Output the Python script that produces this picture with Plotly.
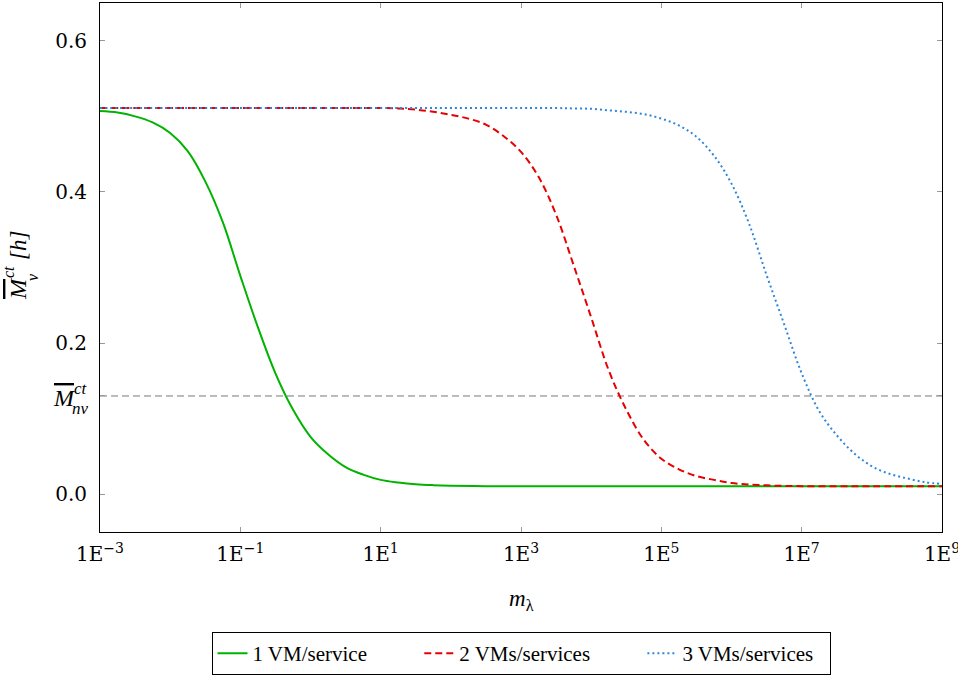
import plotly.graph_objects as go

# ---- data (x = m_lambda, y = mean completion time [h]) ----
m_green = [1e-3, 10**-2.75, 10**-2.5, 10**-2.25, 1e-2, 10**-1.75, 10**-1.5, 10**-1.25, 1e-1,
           10**-0.75, 10**-0.5, 10**-0.25, 1e0, 10**0.25, 10**0.5, 10**0.75, 1e1, 10**1.25,
           10**1.5, 10**1.75, 1e2, 10**2.5, 1e3, 1e4, 1e5, 1e6, 1e7, 1e8, 1e9]
v_green = [0.507, 0.505, 0.500, 0.492, 0.478, 0.454, 0.414, 0.360, 0.289,
           0.221, 0.160, 0.112, 0.076, 0.053, 0.036, 0.026, 0.019, 0.0155,
           0.0132, 0.012, 0.0113, 0.0107, 0.0105, 0.0105, 0.0105, 0.0105, 0.0105, 0.0105, 0.0105]

m_red = [1e-3, 1e-2, 1e-1, 1e0, 10**0.5, 1e1, 10**1.25, 10**1.5, 10**1.75, 1e2, 10**2.25,
         10**2.5, 10**2.75, 1e3, 10**3.25, 10**3.5, 10**3.75, 1e4, 10**4.25, 10**4.5,
         10**4.75, 1e5, 10**5.25, 10**5.5, 10**5.75, 1e6, 10**6.25, 10**6.5, 10**6.75,
         1e7, 10**7.5, 1e8, 1e9]
v_red = [0.511, 0.511, 0.511, 0.511, 0.511, 0.511, 0.5105, 0.509, 0.506, 0.502, 0.497,
         0.489, 0.474, 0.453, 0.420, 0.370, 0.303, 0.234, 0.164, 0.112,
         0.072, 0.047, 0.033, 0.024, 0.019, 0.0148, 0.0128, 0.0117, 0.011,
         0.0107, 0.0105, 0.0105, 0.0105]

m_blue = [1e-3, 1e-1, 1e1, 1e2, 1e3, 10**3.5, 10**3.75, 1e4, 10**4.25, 10**4.5, 10**4.75,
          1e5, 10**5.25, 10**5.5, 10**5.75, 1e6, 10**6.25, 10**6.5, 10**6.75, 1e7,
          10**7.25, 10**7.5, 10**7.75, 1e8, 10**8.25, 10**8.5, 10**8.75, 1e9]
v_blue = [0.511, 0.511, 0.511, 0.511, 0.511, 0.511, 0.5105, 0.510, 0.508, 0.506, 0.503,
          0.497, 0.488, 0.473, 0.448, 0.411, 0.358, 0.290, 0.225, 0.160,
          0.110, 0.078, 0.054, 0.037, 0.027, 0.021, 0.016, 0.0135]

m_nv = 0.13

series_names = ["1 VM/service", "2 VMs/services", "3 VMs/services"]
x_tickvals = [1e-3, 1e-1, 1e1, 1e3, 1e5, 1e7, 1e9]
x_ticktext = ["1E<sup>\u22123</sup>", "1E<sup>\u22121</sup>", "1E<sup>1</sup>", "1E<sup>3</sup>",
              "1E<sup>5</sup>", "1E<sup>7</sup>", "1E<sup>9</sup>"]
y_tickvals = [0.0, 0.2, 0.4, 0.6, m_nv]
y_ticktext = ["0.0", "0.2", "0.4", "0.6", ""]

# ---- figure ----
W, H = 958, 678
L, R, T, B = 100, 16, 3, 146
PW, PH = W - L - R, H - T - B

def px_x(px):
    return (px - L) / PW

def px_y(py):
    return (H - B - py) / PH

NB = "\u00a0"
legend_labels = [series_names[0] + NB * 9, series_names[1] + NB * 9, series_names[2] + NB * 2]

fig = go.Figure()
fig.add_trace(go.Scatter(x=m_green, y=v_green, mode="lines", name=legend_labels[0],
                         line=dict(color="#00b300", width=2, shape="spline")))
fig.add_trace(go.Scatter(x=m_red, y=v_red, mode="lines", name=legend_labels[1],
                         line=dict(color="#e60000", width=2, dash="7px,4px", shape="spline")))
fig.add_trace(go.Scatter(x=m_blue, y=v_blue, mode="lines", name=legend_labels[2],
                         line=dict(color="#2f86dc", width=2, dash="2px,3px", shape="spline")))

fig.add_shape(type="line", xref="paper", x0=0, x1=1, yref="y", y0=m_nv, y1=m_nv,
              line=dict(color="#777777", width=1, dash="7px,4px"), layer="below")

serif = "Liberation Serif"
tickfont = dict(family="DejaVu Serif", size=20, color="black")

fig.update_layout(
    width=W, height=H,
    margin=dict(l=L, r=R, t=T, b=B, autoexpand=False),
    paper_bgcolor="white", plot_bgcolor="white",
    showlegend=True,
    legend=dict(orientation="h", x=0.5, xanchor="center", y=px_y(675), yanchor="bottom",
                bordercolor="black", borderwidth=1, font=dict(family=serif, size=21, color="black"),
                tracegroupgap=0, itemwidth=30),
    xaxis=dict(type="log", range=[-3, 9], tickvals=x_tickvals, ticktext=x_ticktext,
               ticks="inside", ticklen=5, tickcolor="#999999", tickwidth=1,
               showline=True, linecolor="black", linewidth=1, mirror="allticks",
               showgrid=False, zeroline=False, tickfont=tickfont, ticklabelstandoff=4,
               ticklabeloverflow="allow"),
    yaxis=dict(range=[-0.05, 0.65], tickvals=y_tickvals, ticktext=y_ticktext,
               ticks="inside", ticklen=5, tickcolor="#999999", tickwidth=1,
               showline=True, linecolor="black", linewidth=1, mirror="allticks",
               showgrid=False, zeroline=False, tickfont=tickfont, ticklabelstandoff=8),
)

OL = "<span style='text-decoration:overline'><i>M</i></span>"
ann = []
# x-axis title
ann.append(dict(text="<i>m</i><sub>\u03bb</sub>", xref="paper", yref="paper", x=0.5, y=px_y(600),
                xanchor="center", yanchor="middle", showarrow=False,
                font=dict(family=serif, size=23, color="black")))
# y-axis title (rotated, pieces stacked like LaTeX)
ann.append(dict(text=OL, xref="paper", yref="paper", x=px_x(18), y=px_y(289),
                textangle=-90, xanchor="center", yanchor="middle", showarrow=False,
                font=dict(family=serif, size=24, color="black")))
ann.append(dict(text="<i>ct</i>", xref="paper", yref="paper", x=px_x(8), y=px_y(272),
                textangle=-90, xanchor="center", yanchor="middle", showarrow=False,
                font=dict(family=serif, size=16, color="black")))
ann.append(dict(text="<i>\u03bd</i>", xref="paper", yref="paper", x=px_x(32), y=px_y(277),
                textangle=-90, xanchor="center", yanchor="middle", showarrow=False,
                font=dict(family=serif, size=16, color="black")))
ann.append(dict(text="<i>[h]</i>", xref="paper", yref="paper", x=px_x(19), y=px_y(246),
                textangle=-90, xanchor="center", yanchor="middle", showarrow=False,
                font=dict(family=serif, size=23, color="black")))
# custom tick label for M_nv
ann.append(dict(text=OL, xref="paper", yref="y", x=px_x(64), y=m_nv, yshift=-2,
                xanchor="center", yanchor="middle", showarrow=False,
                font=dict(family=serif, size=24, color="black")))
ann.append(dict(text="<i>ct</i>", xref="paper", yref="y", x=px_x(81), y=m_nv, yshift=7,
                xanchor="center", yanchor="middle", showarrow=False,
                font=dict(family=serif, size=17, color="black")))
ann.append(dict(text="<i>n\u03bd</i>", xref="paper", yref="y", x=px_x(80), y=m_nv, yshift=-13,
                xanchor="center", yanchor="middle", showarrow=False,
                font=dict(family=serif, size=17, color="black")))
fig.update_layout(annotations=ann)

fig.write_html("out.html")
